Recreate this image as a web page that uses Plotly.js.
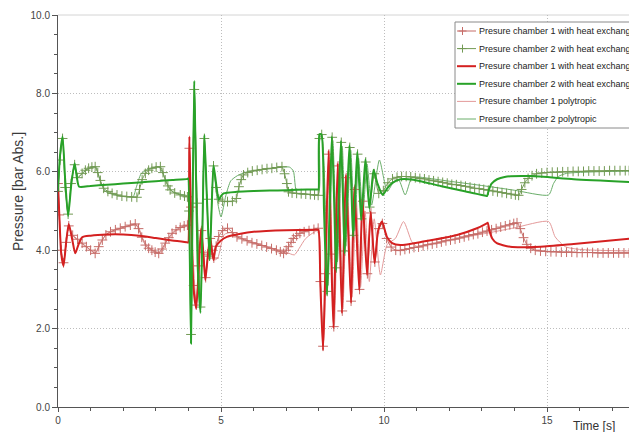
<!DOCTYPE html>
<html><head><meta charset="utf-8">
<script src="https://cdn.plot.ly/plotly-3.0.1.min.js"></script>
<style>html,body{margin:0;padding:0;overflow:hidden;background:#fff}#chart{width:700px;height:432px}</style>
</head><body><div id="chart"></div>
<script>
// ---------------- data (time [s], pressure [bar abs]) ----------------
const t_p1_hx_marked = [0.00,0.04,0.10,0.17,0.25,0.33,0.45,
 0.60,0.74,0.87,1.00,1.14,1.25,1.36,1.47,1.61,1.76,1.91,2.06,2.22,2.37,2.47,2.57,2.68,2.78,2.88,2.98,3.09,3.19,3.29,3.40,3.50,3.62,3.75,3.87,3.97,
 4.03,4.08,4.16,4.24,4.32,4.40,4.46,4.53,4.60,4.67,4.72,4.78,4.85,4.93,
 5.05,5.20,5.35,5.49,5.64,5.80,5.95,6.10,6.25,6.40,6.55,6.70,6.82,6.92,7.00,7.07,7.15,7.22,7.32,7.42,7.55,7.70,7.85,7.98,
 8.05,8.13,8.20,8.31,8.38,8.46,8.59,8.72,8.84,8.99,9.10,9.25,9.35,9.49,9.60,9.72,9.84,9.95,10.08,10.22,10.36,10.50,
 10.64,10.78,10.92,11.06,11.20,11.34,11.48,11.62,11.76,11.90,12.04,12.18,12.32,12.46,12.60,12.74,12.88,13.02,13.16,13.30,13.44,13.58,13.72,13.86,13.98,14.08,
 14.18,14.28,14.38,14.50,14.64,14.80,14.96,15.12,15.28,15.44,15.60,15.76,15.92,16.08,16.24,16.40,16.56,16.72,16.88,17.04,17.20,17.36,17.52];
const p1_hx_marked = [5.70,4.90,4.00,3.68,4.20,4.62,4.38,
 4.28,4.18,4.09,4.00,3.92,4.09,4.26,4.39,4.47,4.52,4.56,4.60,4.64,4.67,4.55,4.33,4.13,4.05,4.00,3.95,3.92,4.03,4.18,4.32,4.43,4.52,4.58,4.62,4.64,
 6.60,5.10,3.10,2.60,3.60,4.50,3.95,3.30,3.90,4.30,4.00,3.80,4.10,4.35,
 4.50,4.56,4.45,4.34,4.29,4.24,4.19,4.16,4.12,4.08,4.04,4.00,3.96,3.92,4.00,4.09,4.20,4.30,4.37,4.43,4.47,4.50,4.53,4.56,
 3.20,1.55,3.40,6.45,3.90,2.05,6.15,2.45,5.85,2.70,5.55,3.00,5.25,3.40,4.95,3.70,4.55,4.68,4.30,4.08,4.00,3.99,
 4.02,4.04,4.07,4.08,4.11,4.14,4.16,4.18,4.21,4.24,4.26,4.28,4.31,4.34,4.37,4.40,4.42,4.46,4.49,4.52,4.55,4.59,4.62,4.65,4.68,4.70,
 4.55,4.32,4.15,4.05,4.00,3.98,3.97,3.96,3.96,3.95,3.95,3.95,3.94,3.94,3.94,3.94,3.93,3.93,3.93,3.93,3.93,3.93,3.93];

const t_p2_hx_marked = [0.00,0.06,0.14,0.22,0.31,0.40,0.51,0.60,
 0.74,0.84,0.94,1.04,1.14,1.22,1.30,1.40,1.53,1.66,1.81,1.96,2.11,2.26,2.42,2.50,2.58,2.68,2.78,2.88,3.01,3.14,3.22,3.29,3.37,3.44,3.58,3.75,3.88,3.97,
 4.02,4.08,4.18,4.27,4.37,4.49,4.57,4.65,4.77,4.85,4.93,
 5.05,5.20,5.35,5.47,5.55,5.62,5.69,5.82,5.96,6.11,6.26,6.41,6.56,6.71,6.87,6.95,7.02,7.07,7.18,7.32,7.46,7.60,7.74,7.87,7.98,
 8.02,8.09,8.26,8.41,8.54,8.69,8.80,8.95,9.06,9.19,9.31,9.44,9.56,9.70,9.84,9.98,10.12,10.26,10.40,10.54,
 10.68,10.82,10.96,11.10,11.24,11.38,11.52,11.66,11.80,11.94,12.08,12.22,12.36,12.50,12.64,12.78,12.92,13.06,13.20,13.34,13.48,13.62,13.76,13.90,14.03,14.13,
 14.22,14.32,14.42,14.54,14.68,14.84,15.00,15.16,15.32,15.48,15.64,15.80,15.96,16.12,16.28,16.44,16.60,16.76,16.92,17.08,17.24,17.40,17.52];
const p2_hx_marked = [5.50,6.30,6.85,5.60,4.92,5.70,6.18,5.85,
 5.96,6.04,6.09,6.12,6.13,5.98,5.78,5.58,5.50,5.45,5.41,5.38,5.37,5.36,5.35,5.55,5.80,5.96,6.04,6.09,6.12,6.13,5.98,5.79,5.64,5.54,5.46,5.41,5.38,5.36,
 5.00,1.85,8.10,5.20,2.55,6.85,5.30,3.85,6.15,5.60,5.30,
 5.25,5.24,5.25,5.32,5.62,5.80,5.92,5.98,6.02,6.04,6.06,6.08,6.09,6.11,6.13,5.95,5.70,5.49,5.46,5.45,5.44,5.43,5.42,5.41,5.40,
 6.85,6.95,2.95,6.88,3.55,6.75,3.98,6.62,4.38,6.45,4.80,6.25,5.10,5.95,5.45,5.52,5.72,5.82,5.86,5.88,
 5.88,5.87,5.85,5.83,5.82,5.79,5.77,5.75,5.73,5.71,5.68,5.67,5.65,5.63,5.61,5.58,5.57,5.55,5.53,5.51,5.49,5.47,5.45,5.43,5.41,5.40,
 5.55,5.72,5.83,5.90,5.95,5.97,5.98,5.99,5.99,6.00,6.00,6.01,6.01,6.01,6.02,6.02,6.02,6.02,6.03,6.03,6.03,6.03,6.03];

const t_p1_hx = [0.00,0.04,0.10,0.17,0.25,0.33,0.43,0.53,0.63,0.74,1.00,1.50,2.00,2.50,3.00,3.50,3.97,3.99,4.03,4.07,4.16,4.24,4.32,4.39,4.46,4.52,4.60,4.67,4.72,4.77,4.84,5.00,5.18,5.60,6.00,7.00,7.96,7.99,8.05,8.13,8.20,8.30,8.38,8.45,8.58,8.71,8.83,8.99,9.09,9.24,9.34,9.48,9.59,9.71,9.82,9.94,10.09,10.25,10.50,11.20,12.24,12.85,13.14,13.18,13.24,13.32,13.46,13.87,14.80,15.82,17.52];
const p1_hx = [5.70,4.90,3.90,3.60,4.20,4.67,4.30,3.92,4.15,4.33,4.37,4.40,4.40,4.37,4.31,4.25,4.20,4.19,6.90,5.20,3.00,2.52,3.60,4.56,3.90,3.24,3.90,4.34,4.00,3.75,4.09,4.25,4.34,4.42,4.47,4.51,4.52,4.52,3.07,1.45,3.49,6.54,3.92,2.01,6.22,2.39,5.92,2.65,5.62,2.98,5.32,3.37,4.98,3.67,4.50,4.73,4.34,4.18,4.13,4.22,4.39,4.56,4.68,4.70,4.48,4.30,4.18,4.09,4.09,4.16,4.29];

const t_p2_hx = [0.00,0.06,0.14,0.22,0.31,0.41,0.51,0.58,0.65,1.00,1.50,2.00,2.50,3.00,3.50,3.97,3.99,4.04,4.08,4.12,4.18,4.23,4.29,4.37,4.43,4.49,4.56,4.65,4.71,4.77,4.85,4.93,5.00,5.08,5.49,6.00,6.50,7.00,7.33,7.96,7.99,8.02,8.08,8.16,8.25,8.33,8.40,8.47,8.53,8.61,8.68,8.74,8.79,8.87,8.94,9.00,9.05,9.12,9.18,9.24,9.30,9.37,9.43,9.49,9.55,9.62,9.68,9.80,9.96,10.10,10.25,10.50,10.90,11.73,12.44,13.12,13.16,13.22,13.30,13.47,13.70,14.50,15.82,17.52];
const p2_hx = [5.50,6.40,6.90,5.80,4.87,5.70,6.22,5.85,5.62,5.64,5.67,5.70,5.73,5.76,5.79,5.82,5.83,4.00,1.62,4.50,8.32,6.00,3.50,2.40,4.50,6.94,5.50,3.75,5.00,6.17,5.70,5.28,5.38,5.45,5.49,5.51,5.52,5.53,5.54,5.55,5.55,6.96,6.96,5.00,2.86,5.00,6.91,5.30,3.49,5.30,6.79,5.40,3.92,5.40,6.68,5.60,4.34,5.50,6.51,5.70,4.77,5.60,6.32,5.70,5.07,5.60,6.05,5.70,5.41,5.58,5.71,5.81,5.80,5.64,5.51,5.39,5.38,5.55,5.70,5.81,5.87,5.89,5.81,5.74];

const t_p1_poly = [0.00,0.04,0.10,0.17,0.25,0.33,0.45,0.60,0.80,1.05,1.17,1.30,1.50,1.80,2.10,2.42,2.60,2.75,2.95,3.15,3.35,3.55,3.80,3.98,4.03,4.08,4.24,4.39,4.52,4.67,4.80,4.90,5.10,5.30,5.60,6.00,6.50,7.00,7.25,7.40,7.60,7.98,8.05,8.15,8.22,8.33,8.41,8.48,8.61,8.74,8.87,9.02,9.15,9.28,9.42,9.55,9.70,9.89,10.10,10.35,10.60,10.85,11.00,12.00,13.00,14.00,15.05,15.25,15.56,16.00,17.52];
const p1_poly = [5.70,4.90,3.95,3.65,4.20,4.64,4.38,4.25,4.12,3.98,3.94,4.20,4.42,4.53,4.60,4.66,4.30,4.10,3.98,3.93,4.25,4.45,4.58,4.63,6.50,5.00,2.65,4.45,3.35,4.25,3.75,3.80,4.40,4.45,4.32,4.20,4.07,3.95,3.88,4.05,4.30,4.50,3.20,1.70,3.40,6.30,3.90,2.10,6.00,2.50,5.70,2.80,5.30,3.05,5.00,3.20,4.80,3.37,4.15,4.30,4.73,4.22,4.10,4.26,4.41,4.57,4.73,4.34,4.09,4.02,3.98];

const t_p2_poly = [0.00,0.06,0.14,0.22,0.31,0.41,0.51,0.60,0.80,1.00,1.15,1.30,1.45,1.70,2.00,2.30,2.40,2.55,2.80,3.10,3.35,3.50,3.80,3.98,4.02,4.08,4.18,4.27,4.37,4.49,4.57,4.65,4.77,4.88,5.00,5.15,5.30,5.50,5.80,6.50,7.10,7.22,7.33,7.60,7.98,8.03,8.10,8.28,8.43,8.57,8.72,8.83,8.98,9.10,9.22,9.35,9.48,9.62,9.86,10.10,10.30,10.45,10.65,10.85,11.00,12.00,13.00,14.00,15.05,15.20,15.35,15.60,16.50,17.52];
const p2_poly = [5.50,6.35,6.88,5.70,4.90,5.72,6.20,5.85,6.00,6.10,6.12,5.75,5.50,5.42,5.37,5.36,5.60,5.95,6.08,6.12,5.70,5.50,5.42,5.38,4.90,1.75,8.20,5.00,2.50,6.88,5.20,3.80,6.10,5.30,4.85,5.40,5.77,5.90,6.00,6.08,6.12,6.02,5.45,5.43,5.42,6.80,6.90,3.10,6.80,3.70,6.65,4.10,6.55,4.50,6.35,4.90,6.20,5.15,6.30,5.50,5.75,5.80,5.41,5.85,5.87,5.76,5.65,5.53,5.41,5.70,5.88,5.96,6.00,6.02];

const seriesNames = [
  'Presure chamber 1 with heat exchanger',
  'Presure chamber 2 with heat exchanger',
  'Presure chamber 1 with heat exchanger',
  'Presure chamber 2 with heat exchanger',
  'Presure chamber 1 polytropic',
  'Presure chamber 2 polytropic'
];
const yTicks = [0,2,4,6,8,10];
const xTicks = [0,5,10,15];

// ---------------- styling / layout ----------------
const C = {
  redMarked: 'rgb(198,108,104)', greenMarked: 'rgb(114,154,84)',
  red: 'rgb(212,32,32)', green: 'rgb(40,162,40)',
  redPoly: 'rgb(228,154,154)', greenPoly: 'rgb(106,174,106)'
};
const W=700, H=432, ML=58, MR=10, MT=15, MB=25;
const PW=W-ML-MR, PH=H-MT-MB;
const xMax = PW/32.6;
const FONT = 'Liberation Sans, Arial, Helvetica, sans-serif';
function px(x){return (x-ML)/PW;}
function py(y){return (H-MB-y)/PH;}

const traces = [
  {x:t_p1_poly, y:p1_poly, mode:'lines', line:{color:C.redPoly, width:1, shape:'spline', smoothing:0.6}, name:seriesNames[4]},
  {x:t_p2_poly, y:p2_poly, mode:'lines', line:{color:C.greenPoly, width:1, shape:'spline', smoothing:0.6}, name:seriesNames[5]},
  {x:t_p1_hx_marked, y:p1_hx_marked, mode:'lines+markers', line:{color:C.redMarked, width:1, shape:'spline', smoothing:0.5},
   marker:{symbol:'cross-thin', size:7, line:{width:1, color:C.redMarked}}, name:seriesNames[0]},
  {x:t_p2_hx_marked, y:p2_hx_marked, mode:'lines+markers', line:{color:C.greenMarked, width:1, shape:'spline', smoothing:0.5},
   marker:{symbol:'cross-thin', size:7, line:{width:1, color:C.greenMarked}}, name:seriesNames[1]},
  {x:t_p1_hx, y:p1_hx, mode:'lines', line:{color:C.red, width:2, shape:'spline', smoothing:0.6}, name:seriesNames[2]},
  {x:t_p2_hx, y:p2_hx, mode:'lines', line:{color:C.green, width:2, shape:'spline', smoothing:0.6}, name:seriesNames[3]}
].map(tr => Object.assign(tr, {type:'scatter', showlegend:false, hoverinfo:'skip'}));

// custom legend (box, symbols, labels) in paper coordinates
const rowY = [31, 48.6, 66.2, 83.8, 101.4, 119];
const rowStyle = [
  {c:C.redMarked, w:1, cross:true}, {c:C.greenMarked, w:1, cross:true},
  {c:C.red, w:2}, {c:C.green, w:2},
  {c:C.redPoly, w:1}, {c:C.greenPoly, w:1}
];
const shapes = [
  {type:'line', xref:'paper', yref:'paper', x0:0, x1:1, y0:1, y1:1, line:{color:'#d4d4d4', width:1}, layer:'below'},
  {type:'rect', xref:'paper', yref:'paper', x0:px(455), x1:px(695), y0:py(128), y1:py(22),
   fillcolor:'#ffffff', line:{color:'#8a8a8a', width:1}, layer:'above'}
];
const annotations = [];
rowY.forEach((ry, i) => {
  const s = rowStyle[i];
  shapes.push({type:'line', xref:'paper', yref:'paper', x0:px(457), x1:px(476), y0:py(ry), y1:py(ry),
    line:{color:s.c, width:s.w}, layer:'above'});
  if (s.cross) {
    shapes.push({type:'line', xref:'paper', yref:'paper', x0:px(462.5), x1:px(462.5), y0:py(ry-4), y1:py(ry+4),
      line:{color:s.c, width:1}, layer:'above'});
    shapes.push({type:'line', xref:'paper', yref:'paper', x0:px(458.5), x1:px(466.5), y0:py(ry), y1:py(ry),
      line:{color:s.c, width:1}, layer:'above'});
  }
  annotations.push({xref:'paper', yref:'paper', x:px(477), y:py(ry), xanchor:'left', yanchor:'middle',
    text:seriesNames[i], showarrow:false, font:{family:FONT, size:9, color:'#222'}});
});
annotations.push({xref:'paper', yref:'paper', x:0, xshift:-50, y:py(192), textangle:-90,
  text:'Pressure [bar Abs.]', showarrow:false, font:{family:FONT, size:14, color:'#3a3a3a'}});
annotations.push({xref:'x', yref:'paper', x:(594-ML)/32.6, y:0, yshift:-19, yanchor:'middle',
  text:'Time [s]', showarrow:false, font:{family:FONT, size:12, color:'#333'}});

const axisCommon = {
  showline:true, linecolor:'#555', linewidth:1, ticks:'outside', tickcolor:'#555', ticklen:5,
  showgrid:true, gridcolor:'#bdbdbd', griddash:'1px,2px', gridwidth:1, zeroline:false,
  tickfont:{family:FONT, size:10, color:'#444'}
};
const layout = {
  width:W, height:H, margin:{l:ML, r:MR, t:MT, b:MB, pad:0},
  paper_bgcolor:'#fff', plot_bgcolor:'#fff', font:{family:FONT},
  xaxis: Object.assign({}, axisCommon, {range:[0, xMax], tickmode:'array', tickvals:xTicks, ticktext:xTicks.map(String),
    ticklen:4, minor:{dtick:1, tick0:0, ticks:'outside', ticklen:3, tickcolor:'#555', showgrid:false}}),
  yaxis: Object.assign({}, axisCommon, {range:[0,10], tickmode:'array', tickvals:yTicks, ticktext:yTicks.map(v=>v.toFixed(1)),
    minor:{dtick:0.5, tick0:0, ticks:'outside', ticklen:3, tickcolor:'#555', showgrid:false}}),
  shapes:shapes, annotations:annotations, showlegend:false
};
Plotly.newPlot('chart', traces, layout, {staticPlot:true, displayModeBar:false});
</script></body></html>
